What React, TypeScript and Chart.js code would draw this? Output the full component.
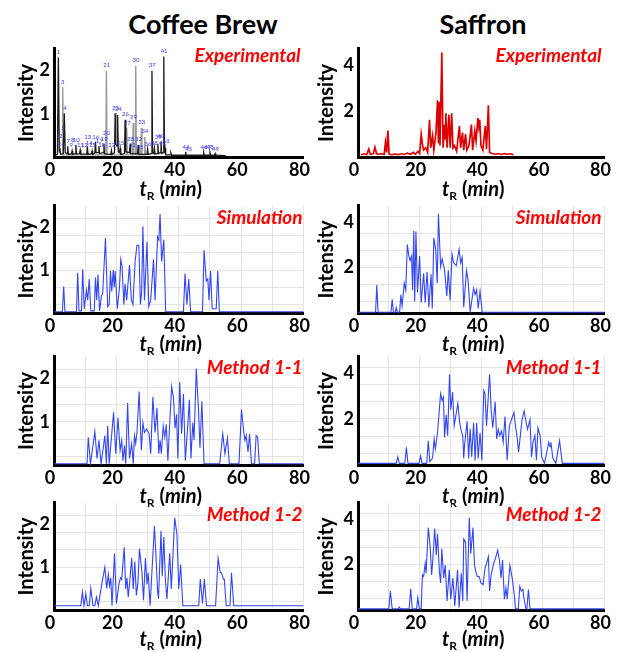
import React, { useEffect, useRef } from 'react';
import { Chart, registerables } from 'chart.js';
Chart.register(...registerables);

type Pt = [number, number];

const columnTitles = ['Coffee Brew', 'Saffron'];
const rowLabels = ['Experimental', 'Simulation', 'Method 1-1', 'Method 1-2'];
const xTickLabels = [0, 20, 40, 60, 80];
const coffeeYLabels = [1, 2];
const saffronYLabels = [2, 4];
const coffeeYGrid = [0.2, 0.6, 1.0, 1.4, 1.8, 2.2];
const saffronYGrid = [0.5, 1.25, 2, 2.75, 3.5, 4.25];
const coffeeYMax = 2.5;
const saffronYMax = 4.7;

// Coffee Brew – experimental chromatogram (dark and light peaks)
const coffeeExpBlack: Pt[] = [
  [0.3, 0.04], [1.1, 0.06], [1.4, 2.3], [1.7, 0.12], [1.9, 0.2], [2.1, 0.06], [3.0, 0.08], [3.3, 1.01], [3.6, 0.1],
  [4.2, 0.08], [4.4, 0.25], [4.6, 0.06], [5.6, 0.07], [5.8, 0.14], [6.0, 0.06], [6.8, 0.08], [7.0, 0.28], [7.2, 0.07],
  [8.2, 0.08], [8.4, 0.16], [8.6, 0.06], [10.5, 0.07], [10.7, 0.25], [10.9, 0.06], [12.0, 0.08], [12.2, 0.14], [12.4, 0.06],
  [13.1, 0.09], [13.3, 0.35], [13.5, 0.1], [14.2, 0.1], [14.4, 0.25], [14.6, 0.08], [15.8, 0.1], [16.0, 0.3], [16.2, 0.07],
  [18.2, 0.06], [18.4, 0.15], [18.6, 0.06], [19.4, 0.1], [19.6, 1.01], [19.8, 0.3], [20.2, 0.25], [20.4, 0.97], [20.6, 0.12],
  [21.0, 0.1], [21.2, 0.2], [21.4, 0.06], [22.6, 0.08], [22.8, 0.86], [23.0, 0.12], [24.2, 0.1], [24.4, 0.3], [24.6, 0.08],
  [26.8, 0.08], [27.0, 0.28], [27.2, 0.06], [29.8, 0.06], [30.0, 0.18], [30.2, 0.06], [31.2, 0.08], [31.4, 1.99], [31.6, 0.1],
  [32.0, 0.08], [32.2, 0.2], [32.4, 0.07], [33.1, 0.08], [33.3, 0.3], [33.5, 0.08], [34.1, 0.1], [34.3, 0.35], [34.5, 0.08],
  [35.0, 0.1], [35.2, 2.32], [35.4, 0.1], [35.6, 0.2], [35.8, 0.05], [37.3, 0.05], [37.5, 0.09], [37.7, 0.04], [42.0, 0.04],
  [42.2, 0.12], [42.4, 0.04], [47.8, 0.04], [48.0, 0.1], [48.2, 0.04], [49.8, 0.04], [50.0, 0.1], [50.2, 0.04], [51.5, 0.04],
  [51.7, 0.08], [51.9, 0.04], [55, 0.03],
];
const coffeeExpGray: Pt[] = [
  [2.6, 0.05], [2.8, 1.61], [3.0, 0.05], [16.6, 0.05], [16.8, 1.99], [17.0, 0.05], [23.1, 0.05], [23.3, 0.67], [23.5, 0.05],
  [25.2, 0.05], [25.4, 0.79], [25.6, 0.05], [26.0, 0.05], [26.2, 2.11], [26.4, 0.05], [27.8, 0.05], [28.0, 0.67], [28.2, 0.05],
  [28.9, 0.05], [29.1, 0.46], [29.3, 0.05],
];
const coffeeExpPeakLabels: [number, number, string][] = [
  [1.4, 2.36, '1'], [2.8, 1.67, '3'], [3.5, 1.07, '4'], [2.9, 0.6, '5'], [2.2, 0.42, '2'], [1.9, 0.24, '6'], [4.6, 0.3, '7'],
  [6.0, 0.33, '8'], [7.1, 0.33, '10'], [5.5, 0.2, '9'], [8.5, 0.2, '11'], [9.8, 0.2, '12'], [10.8, 0.4, '13'], [11.3, 0.25, '14'],
  [12.3, 0.2, '15'], [13.4, 0.4, '16'], [14.5, 0.3, '17'], [15.3, 0.2, '18'], [16.1, 0.35, '19'], [16.8, 0.48, '20'],
  [16.9, 2.05, '21'], [18.5, 0.2, '22'], [19.7, 1.07, '23'], [20.6, 1.04, '24'], [21.4, 0.25, '25'], [22.9, 0.93, '26'],
  [23.5, 0.72, '27'], [24.5, 0.35, '28'], [25.5, 0.85, '29'], [26.3, 2.17, '30'], [25.1, 0.2, '31'], [27.1, 0.34, '32'],
  [28.1, 0.74, '33'], [29.2, 0.52, '34'], [27.6, 0.15, '35'], [30.1, 0.22, '36'], [31.5, 2.05, '37'], [32.2, 0.26, '38'],
  [33.4, 0.38, '39'], [34.3, 0.42, '40'], [35.3, 2.38, '41'], [34.8, 0.25, '42'], [35.9, 0.3, '43'], [42.3, 0.16, '44'],
  [43.2, 0.12, '45'], [48.1, 0.15, '46'], [49.2, 0.15, '47'], [50.1, 0.15, '48'], [51.8, 0.12, '49'],
];

// Saffron – experimental chromatogram
const saffronExp: Pt[] = [
  [1, 0.1], [2, 0.14], [2.8, 0.1], [3.5, 0.35], [4.0, 0.12], [5.0, 0.15], [5.5, 0.42], [6.0, 0.15], [6.5, 0.12], [7.5, 0.14],
  [8.5, 0.12], [8.9, 0.63], [9.3, 0.2], [9.7, 1.15], [10.1, 0.12], [11, 0.1], [12, 0.13], [13, 0.1], [14, 0.14], [15, 0.11],
  [16, 0.17], [17, 0.12], [18, 0.2], [18.6, 0.12], [19.5, 0.25], [20.0, 0.15], [20.5, 0.99], [20.9, 0.55], [21.3, 0.3],
  [22.0, 0.4], [22.6, 0.2], [23.2, 1.62], [23.6, 0.4], [24.2, 0.92], [24.6, 0.3], [25.3, 1.06], [25.8, 2.46], [26.1, 0.6],
  [26.3, 2.39], [26.6, 0.5], [27.2, 4.54], [27.6, 0.4], [28.1, 1.41], [28.3, 0.8], [28.5, 1.9], [28.9, 0.4], [29.5, 1.83],
  [29.9, 0.4], [30.4, 1.9], [30.8, 0.4], [31.3, 0.5], [32.0, 0.25], [32.9, 1.34], [33.3, 0.4], [33.9, 1.06], [34.3, 0.3],
  [34.9, 0.99], [35.3, 0.3], [36.0, 0.5], [36.8, 1.41], [37.2, 0.3], [37.9, 1.13], [38.3, 0.7], [38.9, 1.69], [39.2, 1.3],
  [39.5, 1.62], [39.9, 0.5], [40.5, 0.3], [41.3, 1.34], [41.7, 0.35], [42.3, 2.25], [42.7, 0.2], [43.5, 0.15], [44.5, 0.12],
  [45.5, 0.15], [46.5, 0.11], [47.5, 0.15], [48.5, 0.12], [49.5, 0.14], [50.5, 0.1],
];

// Simulation traces
const coffeeSim: Pt[] = [
  [0, 0.03], [2.7, 0.03], [3.1, 0.62], [3.5, 0.03], [7.2, 0.03], [7.6, 0.94], [8.0, 0.05], [8.8, 0.05], [9.2, 1.02], [9.7, 0.1],
  [10.4, 0.53], [10.8, 0.3], [11.3, 0.79], [11.8, 0.05], [12.9, 0.05], [13.3, 0.83], [13.7, 0.3], [14.1, 0.9], [14.6, 0.05],
  [15.2, 0.4], [15.6, 0.45], [16.5, 1.75], [17.2, 0.15], [17.7, 0.2], [18.1, 0.98], [18.5, 0.5], [19.0, 1.0], [19.3, 0.6],
  [19.6, 0.98], [20.3, 0.1], [21.0, 0.6], [21.4, 1.25], [21.8, 1.1], [22.4, 0.2], [22.8, 0.68], [23.3, 0.3], [24.2, 1.12],
  [24.8, 0.3], [25.3, 0.2], [26.0, 1.2], [26.6, 1.58], [27.2, 1.58], [27.7, 0.2], [28.1, 0.5], [28.5, 2.02], [29.0, 0.3],
  [29.8, 1.66], [30.4, 0.15], [31.0, 0.3], [31.9, 1.25], [32.4, 0.3], [33.2, 1.77], [33.6, 1.7], [34.0, 2.3], [34.5, 1.2],
  [35.2, 1.71], [35.8, 0.03], [41.5, 0.03], [42.0, 0.92], [42.6, 0.2], [43.2, 0.79], [43.8, 0.03], [47.6, 0.03], [48.1, 1.47],
  [48.8, 0.75], [49.3, 0.8], [49.7, 0.3], [50.2, 0.98], [50.7, 0.1], [52.0, 0.1], [52.5, 0.98], [53.0, 0.03], [80, 0.03],
];
const saffronSim: Pt[] = [
  [0, 0.03], [5.7, 0.03], [6.1, 1.23], [6.5, 0.03], [10.7, 0.03], [11.1, 0.6], [11.5, 0.03], [12.1, 0.03], [12.4, 0.24],
  [12.8, 0.03], [13.5, 0.03], [13.9, 0.8], [14.3, 0.3], [15.0, 1.3], [15.5, 1.0], [16.0, 3.0], [16.5, 2.5], [16.9, 2.3],
  [17.4, 2.5], [17.7, 1.0], [18.1, 3.6], [18.4, 0.5], [18.8, 3.57], [19.3, 0.9], [20.0, 2.5], [20.5, 0.45], [21.3, 1.73],
  [21.8, 0.45], [22.4, 1.8], [23.0, 0.25], [23.7, 1.7], [24.1, 0.2], [24.6, 3.29], [25.2, 2.8], [25.7, 1.3], [26.1, 4.35],
  [26.8, 2.04], [27.3, 2.37], [28.1, 1.87], [28.8, 0.75], [29.3, 1.87], [29.9, 0.55], [30.5, 2.58], [31.0, 2.2], [31.9, 2.08],
  [32.8, 2.8], [33.3, 2.2], [33.8, 2.44], [34.3, 0.25], [35.2, 1.87], [35.7, 1.45], [36.4, 0.05], [37.5, 1.09], [38.0, 0.8],
  [38.5, 1.02], [39.0, 0.2], [39.6, 0.95], [40.3, 0.03], [80, 0.03],
];

// Method 1-1 traces
const coffeeM11: Pt[] = [
  [0, 0.03], [10.6, 0.03], [11.0, 0.64], [11.7, 0.03], [13.1, 0.77], [13.8, 0.15], [14.4, 0.57], [15.1, 0.03], [16.3, 0.68],
  [16.8, 0.03], [17.2, 0.9], [17.7, 0.03], [19.1, 1.22], [19.8, 0.26], [20.5, 1.09], [21.2, 0.34], [21.7, 0.57], [22.1, 0.1],
  [22.6, 0.45], [23.0, 0.03], [23.6, 1.43], [24.2, 0.15], [24.9, 0.49], [25.4, 0.03], [25.8, 0.68], [26.2, 0.5], [26.6, 0.75],
  [27.3, 1.7], [28.0, 0.34], [28.5, 0.98], [29.0, 0.75], [29.7, 0.83], [30.5, 0.72], [31.0, 0.26], [31.7, 1.57], [32.4, 0.75],
  [33.0, 1.32], [33.6, 0.26], [34.0, 0.57], [34.4, 0.26], [35.0, 0.9], [35.5, 0.64], [36.0, 0.94], [36.5, 0.1], [37.7, 1.81],
  [38.3, 1.55], [38.8, 0.85], [39.3, 1.17], [39.7, 0.15], [40.3, 1.92], [40.9, 0.72], [41.5, 1.64], [42.1, 0.1], [42.8, 0.83],
  [43.4, 1.51], [43.9, 0.15], [44.5, 0.98], [44.9, 0.57], [45.6, 2.23], [46.3, 1.32], [46.8, 0.4], [47.4, 1.47], [48.1, 0.03],
  [53.1, 0.03], [54.1, 0.72], [54.8, 0.26], [55.6, 0.62], [56.2, 0.03], [59.3, 0.03], [60.1, 1.28], [60.8, 0.79], [61.2, 0.57],
  [61.6, 0.68], [62.2, 0.3], [62.7, 0.72], [63.3, 0.03], [64.3, 0.03], [64.8, 0.68], [65.3, 0.64], [65.8, 0.03], [80, 0.03],
];
const saffronM11: Pt[] = [
  [0, 0.07], [12.4, 0.07], [12.9, 0.35], [13.4, 0.07], [15.2, 0.07], [15.7, 0.77], [16.2, 0.07], [19.8, 0.07], [20.3, 0.39],
  [20.8, 0.07], [22.3, 0.07], [22.8, 1.05], [23.3, 0.15], [24.2, 0.3], [24.7, 1.13], [25.1, 0.7], [25.8, 1.4], [26.8, 3.1],
  [27.3, 2.8], [27.7, 2.95], [28.1, 1.2], [28.6, 2.18], [29.1, 1.27], [29.7, 3.94], [30.1, 2.4], [30.7, 3.17], [31.2, 1.7],
  [31.7, 2.1], [32.4, 2.67], [33.0, 1.83], [33.5, 1.48], [34.0, 1.27], [34.3, 0.28], [34.6, 0.9], [35.4, 1.9], [35.9, 0.28],
  [36.4, 1.57], [36.9, 0.35], [37.5, 1.83], [38.0, 0.2], [38.5, 1.83], [39.0, 0.28], [39.6, 1.4], [40.2, 0.2], [40.8, 3.24],
  [41.2, 3.1], [41.7, 1.7], [42.7, 3.94], [43.2, 2.4], [43.7, 1.62], [44.5, 2.75], [45.0, 1.13], [45.5, 1.55], [46.0, 1.27],
  [46.6, 1.48], [47.1, 0.99], [47.7, 2.11], [48.4, 0.21], [49.1, 1.69], [49.8, 1.97], [50.6, 2.28], [51.1, 1.69], [51.7, 1.13],
  [52.1, 0.56], [53.2, 1.94], [53.9, 2.35], [54.5, 1.9], [55.0, 1.55], [55.8, 1.97], [56.3, 0.35], [56.8, 0.99], [57.4, 1.27],
  [57.9, 0.21], [58.4, 1.62], [59.1, 1.27], [59.6, 0.35], [60.5, 0.07], [61.9, 0.99], [62.3, 0.8], [62.6, 0.99], [63.2, 0.3],
  [64.2, 0.07], [65.4, 1.06], [66.3, 0.07], [80, 0.07],
];

// Method 1-2 traces
const coffeeM12: Pt[] = [
  [0, 0.1], [8.6, 0.1], [9.1, 0.42], [9.6, 0.1], [10.2, 0.38], [10.7, 0.1], [11.3, 0.1], [11.8, 0.51], [12.5, 0.1], [13.1, 0.1],
  [13.6, 0.3], [14.2, 0.1], [15.2, 0.56], [16.3, 1.0], [16.9, 0.5], [17.4, 0.83], [17.8, 0.56], [18.2, 0.75], [18.6, 0.1],
  [19.4, 1.32], [20.0, 0.15], [20.8, 0.6], [21.3, 0.75], [21.7, 0.71], [22.5, 1.46], [23.0, 0.49], [23.4, 0.75], [23.8, 0.3],
  [24.2, 0.6], [24.9, 1.21], [25.4, 0.49], [25.9, 1.13], [26.4, 0.34], [26.9, 0.64], [27.4, 1.43], [28.2, 0.87], [28.7, 0.23],
  [29.3, 1.21], [29.8, 0.6], [30.2, 0.87], [30.8, 0.1], [32.2, 1.96], [32.7, 1.25], [33.2, 0.45], [33.5, 0.26], [34.3, 1.85],
  [34.7, 0.79], [35.2, 1.7], [35.7, 0.71], [36.2, 0.26], [37.1, 1.32], [37.6, 0.49], [38.7, 2.15], [39.4, 1.77], [40.0, 0.49],
  [40.6, 1.06], [41.3, 0.1], [46.4, 0.1], [46.9, 0.72], [47.6, 0.15], [48.2, 0.72], [48.9, 0.1], [51.8, 0.1], [52.6, 1.21],
  [53.3, 0.87], [53.7, 0.87], [54.3, 0.72], [54.6, 0.72], [55.2, 0.1], [56.4, 0.1], [56.9, 0.87], [57.6, 0.1], [80, 0.1],
];
const saffronM12: Pt[] = [
  [0, 0.05], [10.0, 0.05], [10.5, 0.83], [11.1, 0.05], [13.0, 0.05], [13.4, 0.12], [13.8, 0.05], [16.6, 0.05], [17.1, 0.93],
  [17.6, 0.05], [19.0, 0.05], [19.4, 0.54], [19.9, 0.05], [20.5, 0.05], [20.9, 1.54], [21.3, 1.47], [21.8, 2.04], [22.1, 1.61],
  [22.8, 3.61], [23.4, 2.8], [23.9, 1.54], [24.3, 2.26], [24.9, 3.57], [25.4, 2.4], [25.8, 3.33], [26.4, 1.69], [26.8, 1.19],
  [27.2, 2.69], [27.8, 1.4], [28.3, 1.97], [28.9, 0.4], [29.6, 1.76], [30.1, 0.47], [30.8, 1.4], [31.4, 0.18], [32.3, 1.76],
  [32.8, 0.11], [33.5, 1.61], [34.0, 0.4], [34.3, 3.11], [34.9, 2.97], [35.4, 0.4], [36.1, 4.04], [36.6, 2.47], [37.3, 3.61],
  [37.8, 1.97], [38.2, 1.69], [38.7, 1.47], [39.3, 1.47], [39.9, 1.19], [40.6, 1.11], [41.2, 1.83], [41.7, 2.04], [42.3, 2.33],
  [42.7, 0.83], [43.2, 1.54], [44.0, 2.04], [44.6, 2.26], [45.3, 2.61], [45.9, 2.19], [46.4, 1.4], [46.9, 2.19], [47.5, 0.47],
  [48.0, 0.97], [48.4, 0.47], [49.3, 1.97], [50.1, 1.33], [50.7, 0.69], [51.1, 0.05], [52.0, 0.05], [52.5, 1.04], [53.0, 0.83],
  [53.5, 0.9], [53.9, 0.47], [54.5, 0.05], [54.8, 0.05], [55.3, 0.9], [55.8, 0.05], [80, 0.05],
];

const FONT = 'Lato, "Open Sans", "Liberation Sans", sans-serif';
const BLUE = '#3346f0';

const columns = [
  { left: 0, width: 316, yWidth: 54, padRight: 8, yMax: coffeeYMax, yLabels: coffeeYLabels, yGrid: coffeeYGrid, titlePad: 15 },
  { left: 310, width: 307, yWidth: 48, padRight: 6, yMax: saffronYMax, yLabels: saffronYLabels, yGrid: saffronYGrid, titlePad: 5 },
];
const rows = [
  { top: 46, bottom: 157, labelDy: 7, grid: false, xTitleDy: 39 },
  { top: 203, bottom: 313, labelDy: 12, grid: true, xTitleDy: 38 },
  { top: 354, bottom: 465, labelDy: 11, grid: true, xTitleDy: 38 },
  { top: 500, bottom: 610, labelDy: 12, grid: true, xTitleDy: 36 },
];
const X_AXIS_H = 50;

const toXY = (pts: Pt[]) => pts.map(([x, y]) => ({ x, y }));

function datasetsFor(r: number, c: number): any[] {
  const line = (pts: Pt[], color: string, width = 1, extra: any = {}) => ({
    data: toXY(pts), borderColor: color, borderWidth: width, pointRadius: 0, tension: 0, fill: false, ...extra,
  });
  if (r === 0 && c === 0) return [line(coffeeExpBlack, '#1a1a1a', 1.3), line(coffeeExpGray, '#9a9a9a', 1.4)];
  if (r === 0 && c === 1) return [line(saffronExp, '#dd0000', 1.7)];
  const table = [[coffeeSim, saffronSim], [coffeeM11, saffronM11], [coffeeM12, saffronM12]];
  return [line(table[r - 1][c], BLUE, 1.1)];
}

const near = (list: number[], v: number) => list.some((g) => Math.abs(g - v) < 1e-6);

const panelText = {
  id: 'panelText',
  afterDraw(chart: any, _args: any, opts: any) {
    const { ctx, chartArea } = chart;
    ctx.save();
    if (opts.peakLabels) {
      const xs = chart.scales.x, ys = chart.scales.y;
      ctx.font = `6px ${FONT}`;
      ctx.fillStyle = '#3a3aff';
      ctx.textAlign = 'center';
      ctx.textBaseline = 'bottom';
      for (const [t, v, s] of opts.peakLabels) ctx.fillText(s, xs.getPixelForValue(t), ys.getPixelForValue(v));
    }
    ctx.font = `italic bold 19px ${FONT}`;
    ctx.fillStyle = '#ff0000';
    ctx.textAlign = 'right';
    ctx.textBaseline = 'middle';
    ctx.fillText(opts.label, chartArea.right - opts.labelDx, chartArea.top + opts.labelDy);

    const parts = [
      { s: 't', f: `italic bold 20px ${FONT}`, dy: 0 },
      { s: 'R', f: `bold 12px ${FONT}`, dy: 4 },
      { s: ' (', f: `bold 20px ${FONT}`, dy: 0 },
      { s: 'min', f: `italic bold 20px ${FONT}`, dy: 0 },
      { s: ')', f: `bold 20px ${FONT}`, dy: 0 },
    ];
    let total = 0;
    for (const p of parts) { ctx.font = p.f; total += ctx.measureText(p.s).width; }
    let x = (chartArea.left + chartArea.right) / 2 - 8 - total / 2;
    const base = chartArea.bottom + opts.xTitleDy;
    ctx.fillStyle = '#000';
    ctx.textAlign = 'left';
    ctx.textBaseline = 'alphabetic';
    for (const p of parts) {
      ctx.font = p.f;
      ctx.fillText(p.s, x, base + p.dy);
      x += ctx.measureText(p.s).width;
    }
    ctx.restore();
  },
};

function Panel({ r, c }: { r: number; c: number }) {
  const ref = useRef<HTMLCanvasElement>(null);
  const col = columns[c];
  const row = rows[r];
  const top = row.top - 12;
  const height = row.bottom - row.top + 12 + X_AXIS_H;
  useEffect(() => {
    const gridColor = '#e4e4e4';
    const chart = new Chart(ref.current!, {
      type: 'line',
      data: { datasets: datasetsFor(r, c) },
      options: {
        animation: false,
        responsive: false,
        maintainAspectRatio: false,
        layout: { padding: { top: 12, right: col.padRight, left: 0, bottom: 0 } },
        plugins: {
          legend: { display: false },
          tooltip: { enabled: false },
          panelText: {
            label: rowLabels[r],
            labelDy: row.labelDy,
            labelDx: r === 0 ? 3 : c === 0 ? 1 : 3,
            xTitleDy: row.xTitleDy,
            peakLabels: r === 0 && c === 0 ? coffeeExpPeakLabels : null,
          },
        } as any,
        scales: {
          x: {
            type: 'linear',
            min: 0,
            max: 80,
            ticks: {
              stepSize: 10,
              autoSkip: false,
              maxRotation: 0,
              padding: 2,
              labelOffset: -4,
              color: '#000',
              font: { family: FONT, size: 18, weight: 'bold' },
              callback: (v: any) => (xTickLabels.includes(Number(v)) ? String(v) : ''),
            },
            grid: { display: row.grid, color: gridColor, drawTicks: false, lineWidth: 1 },
            border: { display: true, color: '#000', width: 3 },
            afterFit: (s: any) => { s.height = X_AXIS_H; },
          },
          y: {
            type: 'linear',
            min: 0,
            max: col.yMax,
            afterBuildTicks: (s: any) => {
              const vals = [...col.yGrid, ...col.yLabels.filter((v) => !near(col.yGrid, v))].sort((a, b) => a - b);
              s.ticks = vals.map((v) => ({ value: v }));
            },
            ticks: {
              autoSkip: false,
              padding: 4,
              color: '#000',
              font: { family: FONT, size: 18, weight: 'bold' },
              callback: (v: any) => (near(col.yLabels, Number(v)) ? String(v) : ''),
            },
            grid: {
              display: row.grid,
              drawTicks: false,
              color: (ctx: any) => (ctx.tick && near(col.yGrid, ctx.tick.value) ? gridColor : 'rgba(0,0,0,0)'),
            },
            border: { display: true, color: '#000', width: 3 },
            title: {
              display: true,
              text: 'Intensity',
              color: '#000',
              font: { family: FONT, size: 20, weight: 'bold' },
              padding: { top: col.titlePad, bottom: 0 },
            },
            afterFit: (s: any) => { s.width = col.yWidth; },
          },
        },
      } as any,
      plugins: [panelText],
    });
    return () => chart.destroy();
  }, []);
  return (
    <canvas
      ref={ref}
      width={col.width}
      height={height}
      style={{ position: 'absolute', left: col.left, top, width: col.width, height }}
    />
  );
}

export default function App() {
  const titleCenters = [203, 483];
  return (
    <div style={{ position: 'absolute', left: 0, top: 0, width: 617, height: 652, overflow: 'hidden', background: '#fff' }}>
      {columnTitles.map((t, i) => (
        <div
          key={t}
          style={{
            position: 'absolute', left: titleCenters[i] - 110, width: 220, top: 7, textAlign: 'center',
            font: `bold 27px ${FONT}`, lineHeight: '34px', color: '#000',
          }}
        >
          {t}
        </div>
      ))}
      {rows.map((_, r) => columns.map((__, c) => <Panel key={`${r}-${c}`} r={r} c={c} />))}
    </div>
  );
}
